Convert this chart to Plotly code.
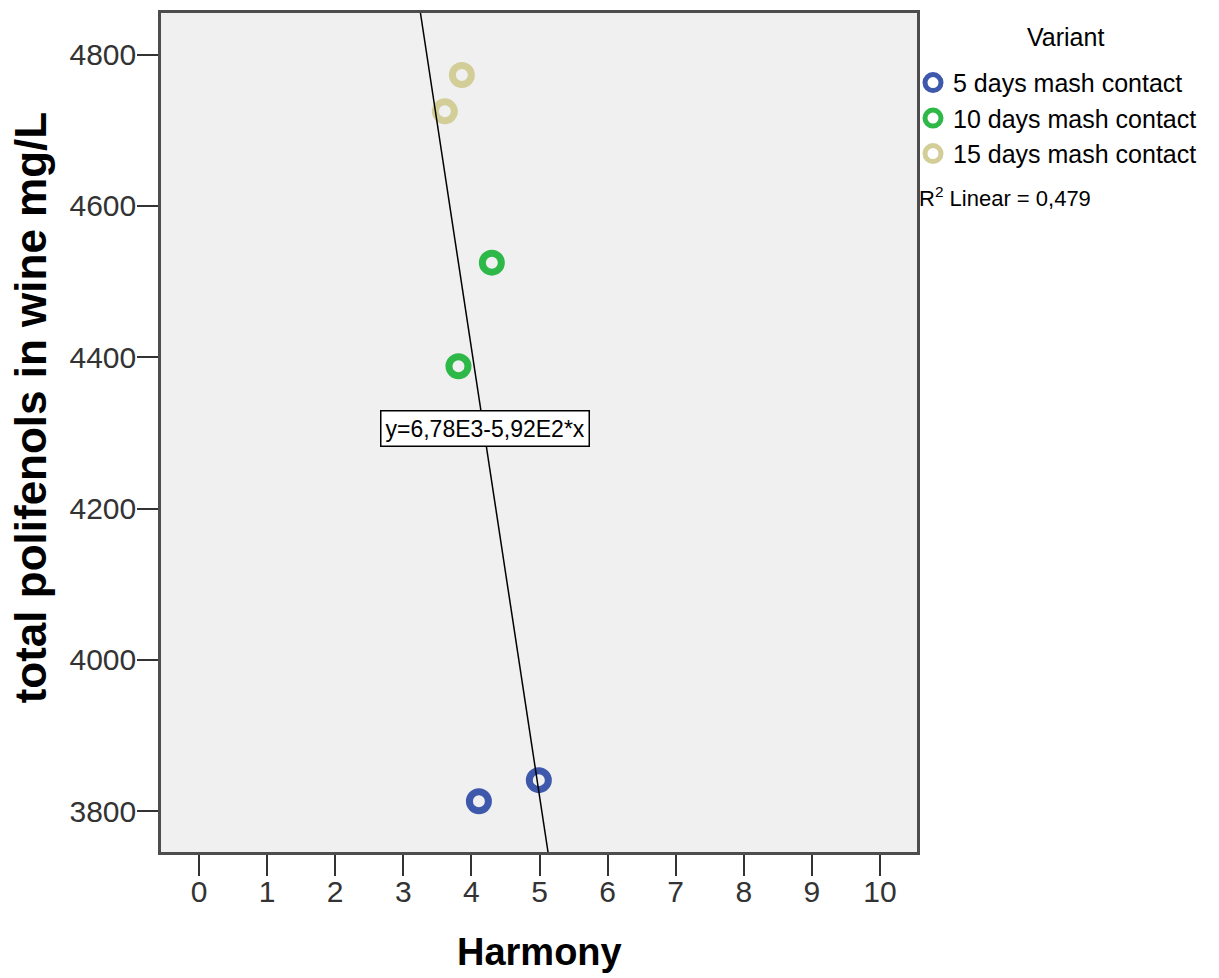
import plotly.graph_objects as go

# ---- data ----
variants = ["5 days mash contact", "10 days mash contact", "15 days mash contact"]
colors = ["#3E58AC", "#2EB848", "#D3CE97"]
harmony = [[4.11, 4.99], [4.30, 3.81], [3.86, 3.61]]
polifenols = [[3813, 3841], [4525, 4388], [4773, 4725]]
fit_intercept = 6780
fit_slope = -592
fit_label = "y=6,78E3-5,92E2*x"
r2_label = "R<sup>2</sup> Linear = 0,479"
x_ticks = list(range(0, 11))
y_ticks = [3800, 4000, 4200, 4400, 4600, 4800]

X_RANGE = [-0.558, 10.543]
Y_RANGE = [3746, 4855]

FONT = "Liberation Sans, Arial, sans-serif"

fig = go.Figure()

for name, col, xs, ys in zip(variants, colors, harmony, polifenols):
    fig.add_trace(go.Scatter(
        x=xs, y=ys, mode="markers", name=name,
        marker=dict(symbol="circle-open", size=19, color=col,
                    line=dict(width=7, color=col)),
    ))

# regression line across the whole visible y range
line_y = list(Y_RANGE)
line_x = [(yv - fit_intercept) / fit_slope for yv in line_y]
fig.add_trace(go.Scatter(x=line_x, y=line_y, mode="lines", showlegend=False,
                         line=dict(color="black", width=1.5)))

axis_common = dict(
    showgrid=False, zeroline=False, showline=True, mirror=True,
    linecolor="#4d4d4d", linewidth=2.5,
    ticks="outside", ticklen=21, tickwidth=2, tickcolor="#333333",
    tickfont=dict(family=FONT, size=30, color="#333333"),
)

fig.update_layout(
    width=1219, height=978,
    margin=dict(l=161, r=302, t=10, b=126),
    paper_bgcolor="white", plot_bgcolor="#F0F0F0",
    font=dict(family=FONT, color="black"),
    xaxis=dict(range=X_RANGE, tickvals=x_ticks, ticklabelstandoff=-10, **axis_common),
    yaxis=dict(range=Y_RANGE, tickvals=y_ticks, ticklabelstandoff=-5, **axis_common),
    legend=dict(
        x=(913 - 161) / 756, y=(852 - 57) / 842, xanchor="left", yanchor="top",
        font=dict(family=FONT, size=25, color="black"),
        tracegroupgap=0, bgcolor="rgba(0,0,0,0)",
    ),
    annotations=[
        dict(text="Variant", xref="paper", yref="paper", x=(1065 - 161) / 756, y=(852 - 34) / 842,
             xanchor="center", yanchor="middle", showarrow=False,
             font=dict(family=FONT, size=25, color="black")),
        dict(text="Harmony", xref="paper", yref="paper", x=(539 - 161) / 756, y=(852 - 952) / 842,
             xanchor="center", yanchor="middle", showarrow=False,
             font=dict(family=FONT, size=38, color="black", weight="bold")),
        dict(text="total polifenols in wine mg/L", xref="paper", yref="paper",
             x=(30 - 161) / 756, y=0.53, xanchor="center", yanchor="middle",
             textangle=-90, showarrow=False,
             font=dict(family=FONT, size=44, color="black", weight="bold")),
        dict(text=fit_label, x=4.2, y=4306, xref="x", yref="y", showarrow=False,
             font=dict(family=FONT, size=23, color="black"),
             bgcolor="white", bordercolor="black", borderwidth=1.5, borderpad=4),
        dict(text=r2_label, xref="paper", yref="paper", x=1.0, y=(852 - 195) / 842,
             xanchor="left", yanchor="middle", showarrow=False,
             font=dict(family=FONT, size=22, color="black")),
    ],
)

fig.write_html("out.html")
